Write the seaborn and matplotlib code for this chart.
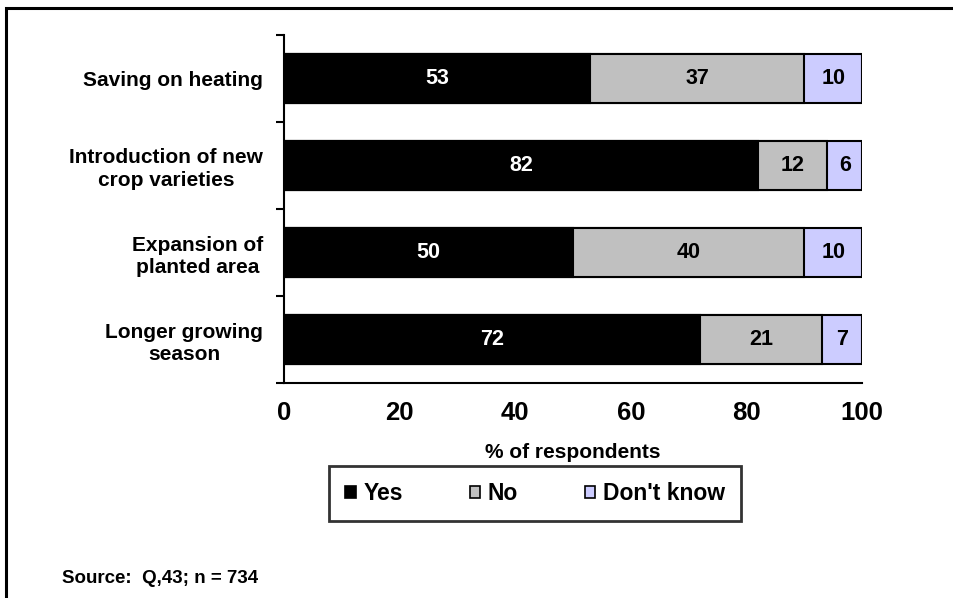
import pandas as pd
import matplotlib.pyplot as plt
import seaborn as sns
from matplotlib.patches import Patch, Rectangle

# Chart data
categories = ["Saving on heating", "Introduction of new\ncrop varieties",
              "Expansion of\nplanted area", "Longer growing\nseason"]
yes = [53, 82, 50, 72]
no = [37, 12, 40, 21]
dont_know = [10, 6, 10, 7]
series_names = ["Yes", "No", "Don't know"]
colors = ["#000000", "#C0C0C0", "#CCCCFF"]
x_ticks = [0, 20, 40, 60, 80, 100]

sns.set_theme(style="white")
plt.rcParams["font.family"] = ["Liberation Sans", "DejaVu Sans"]
plt.rcParams["font.weight"] = "bold"
for key in ["text.color", "axes.labelcolor", "xtick.color", "ytick.color"]:
    plt.rcParams[key] = "black"

df = pd.DataFrame({"category": categories, "Yes": yes, "No": no, "Don't know": dont_know})
df["cum_no"] = df["Yes"] + df["No"]
df["cum_dk"] = df["cum_no"] + df["Don't know"]

fig = plt.figure(figsize=(9.54, 5.98), dpi=100)
ax = fig.add_axes([0.2977, 0.3595, 0.6059, 0.582])

# stacked bars: draw totals first, then overlay shorter segments
for col, color in zip(["cum_dk", "cum_no", "Yes"], colors[::-1]):
    sns.barplot(data=df, x=col, y="category", orient="h", color=color,
                width=0.56, edgecolor="black", linewidth=1.5, saturation=1, ax=ax)

# value labels in the middle of each segment
starts = [[0] * len(yes), list(yes), list(df["cum_no"])]
for vals, st, tc in zip([yes, no, dont_know], starts, ["white", "black", "black"]):
    for i, (v, s) in enumerate(zip(vals, st)):
        ax.text(s + v / 2, i, str(v), ha="center", va="center", color=tc,
                fontsize=15.5, fontweight="bold")

ax.set_xlim(0, 100)
ax.set_ylim(3.5, -0.5)
ax.set_xticks(x_ticks)
ax.set_xlabel("% of respondents", fontsize=15, fontweight="bold", labelpad=13)
ax.set_ylabel("")
ax.tick_params(axis="x", labelsize=18.5, length=6, width=1.5, direction="out", pad=7)
ax.tick_params(axis="y", labelsize=15, length=0, pad=15)
ax.set_yticks([-0.5, 0.5, 1.5, 2.5, 3.5], minor=True)
ax.tick_params(axis="y", which="minor", length=6, width=1.5, direction="out", left=True)
for lbl in ax.get_yticklabels():
    lbl.set_multialignment("center")
    lbl.set_linespacing(1.25)
for lbl in ax.get_xticklabels():
    lbl.set_fontweight("bold")

sns.despine(ax=ax)
for side in ["left", "bottom"]:
    ax.spines[side].set_color("black")
    ax.spines[side].set_linewidth(1.5)

handles = [Patch(facecolor=c, edgecolor="black", linewidth=1.2) for c in colors]
leg = fig.legend(handles, series_names, loc="center", bbox_to_anchor=(0.561, 0.174),
                 ncol=3, frameon=True, fancybox=False, handlelength=0.45,
                 handleheight=0.45, handletextpad=0.35, columnspacing=2.9,
                 borderpad=0.7, edgecolor="black", prop={"weight": "bold", "size": 16.5})
leg.get_frame().set_linewidth(2)
leg.get_frame().set_boxstyle("square", pad=0)

fig.text(0.065, 0.033, "Source:  Q,43; n = 734", fontsize=13.5, fontweight="bold",
         ha="left", va="center")

# outer frame of the chart area
fig.patches.append(Rectangle((0.0063, -0.1), 1.2, 1.0866, transform=fig.transFigure,
                             fill=False, edgecolor="black", linewidth=2.2, clip_on=False))

fig.savefig("out.png", dpi=100)
